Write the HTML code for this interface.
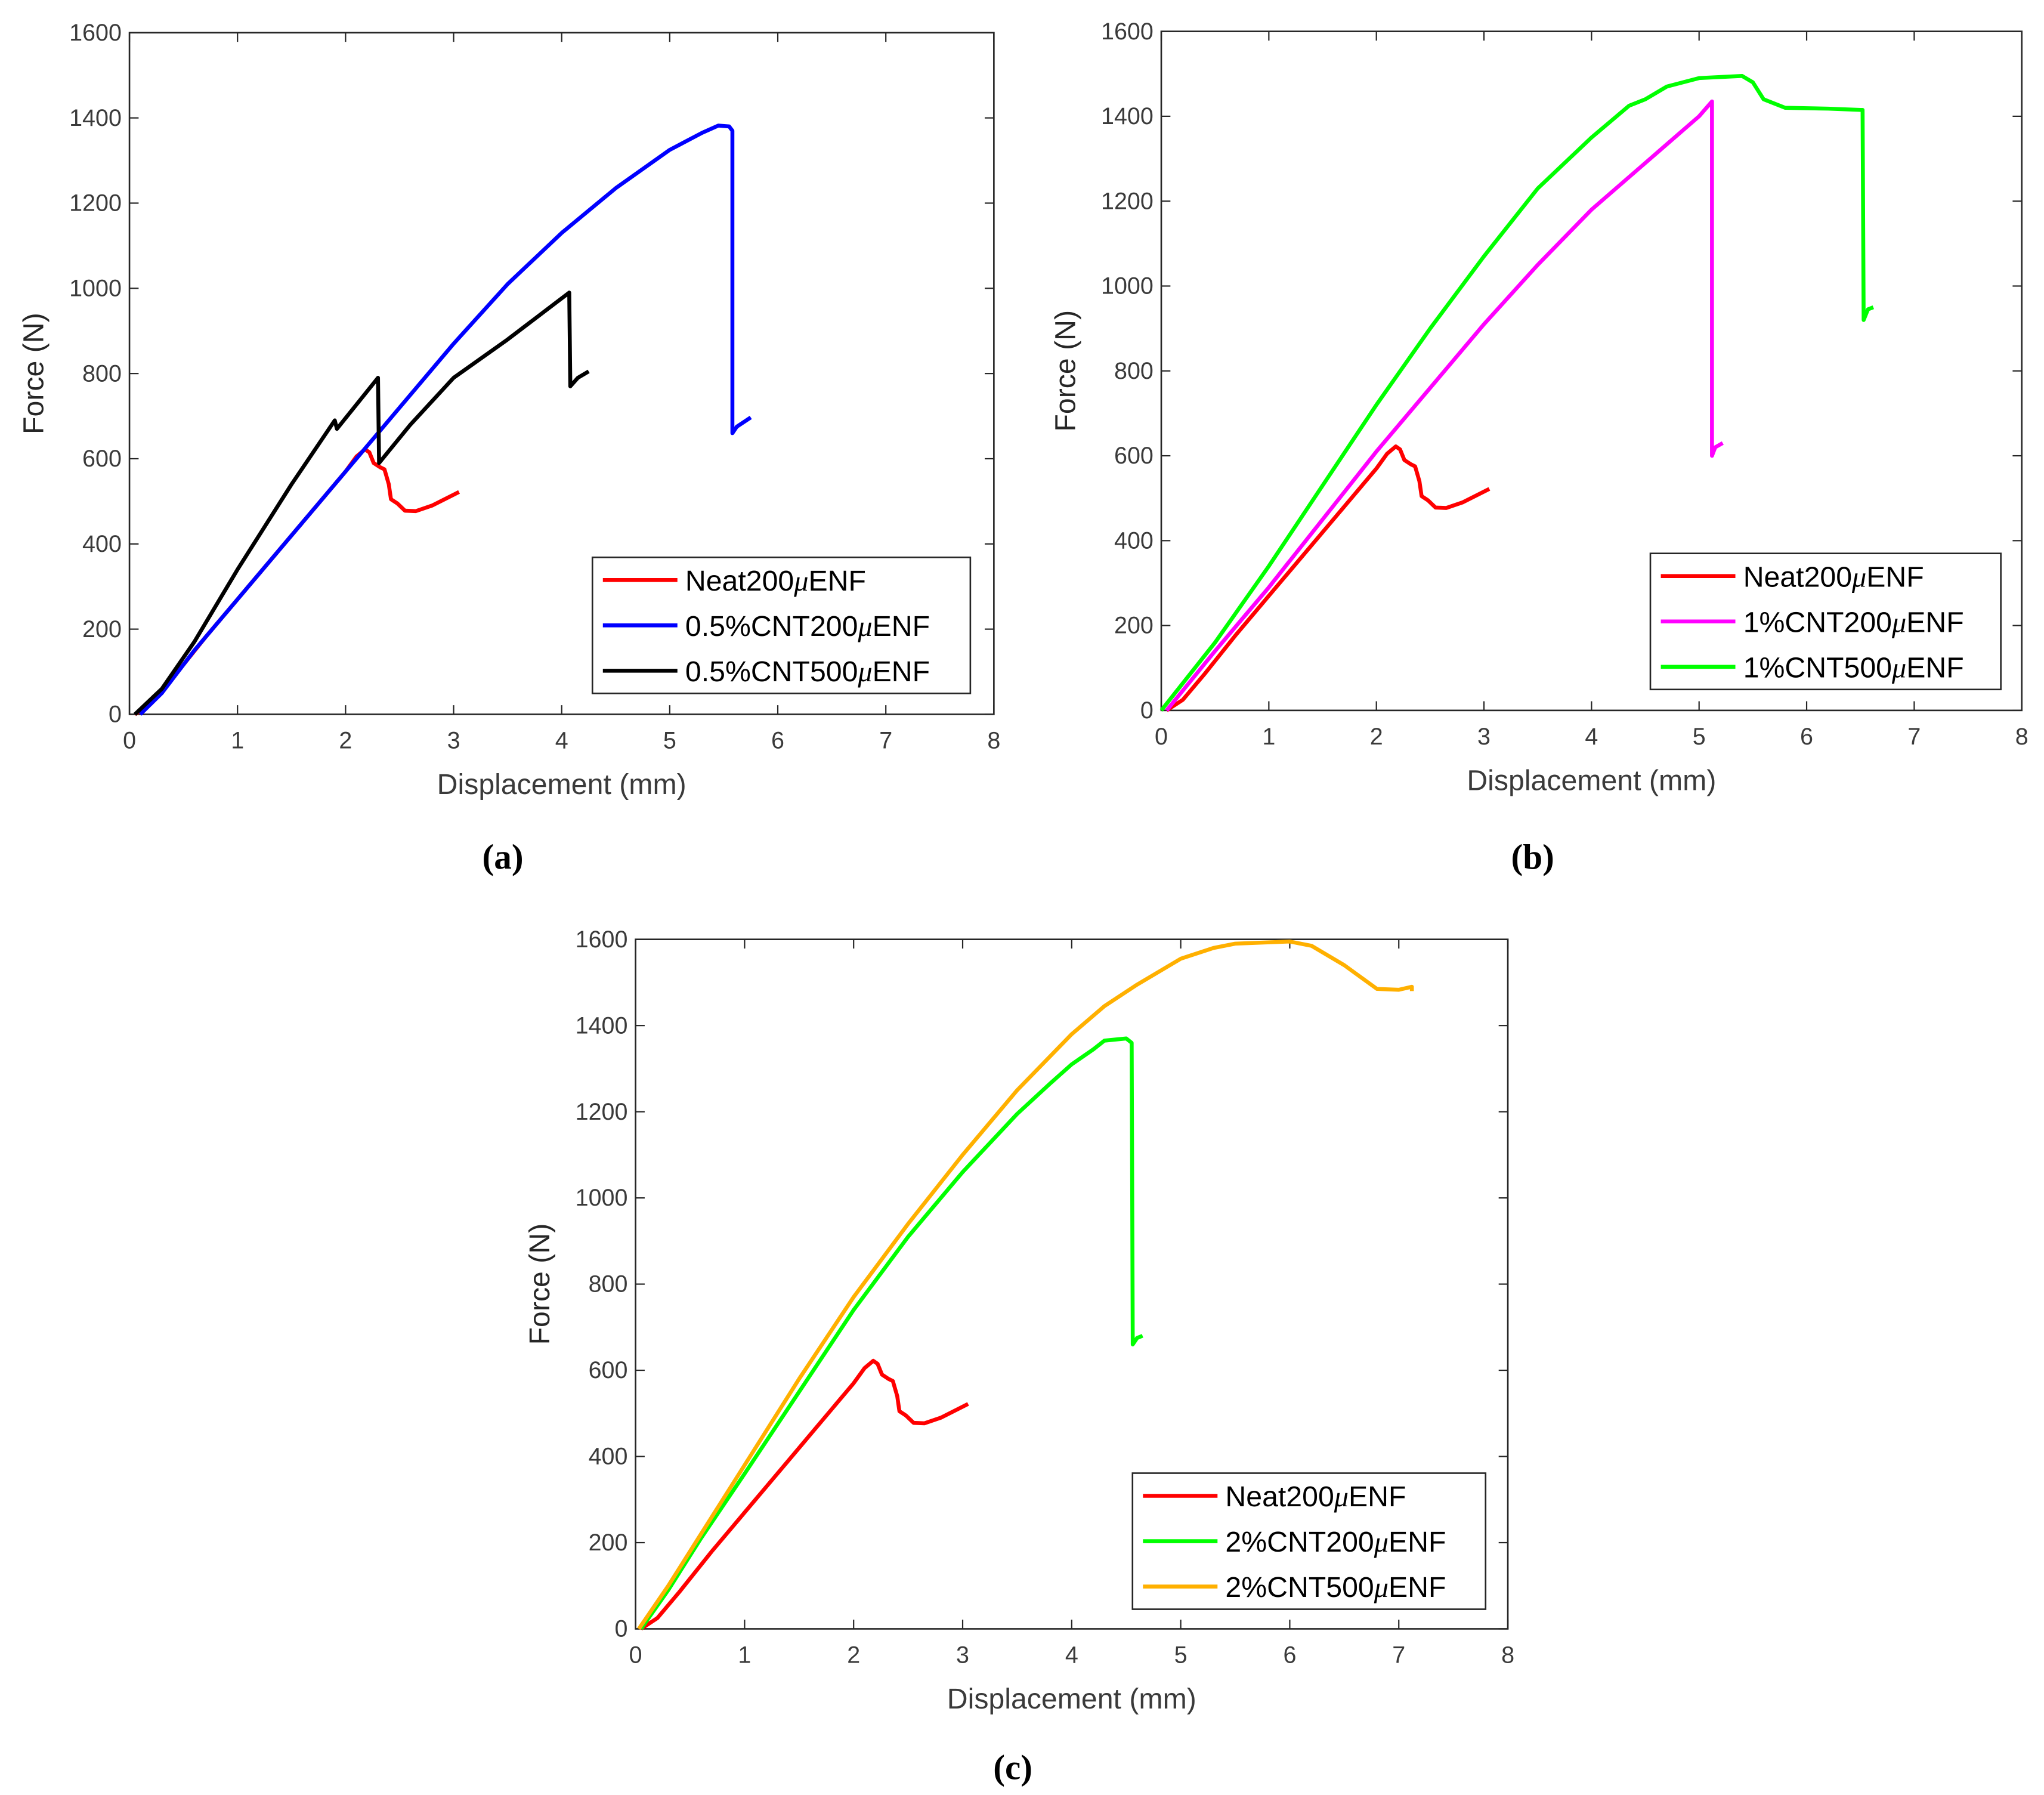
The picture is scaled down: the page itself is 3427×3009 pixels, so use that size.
<!DOCTYPE html>
<html><head><meta charset="utf-8"><style>
html,body{margin:0;padding:0;background:#fff;}
svg{display:block;}
text{font-family:"Liberation Sans",Arial,sans-serif;}
</style></head><body>
<svg id="fig" width="3427" height="3009" viewBox="0 0 1563 1372" preserveAspectRatio="none" xmlns="http://www.w3.org/2000/svg"></svg>
<script>
const xTicks=[0,1,2,3,4,5,6,7,8];
const yTicks=[0,200,400,600,800,1000,1200,1400,1600];
const neatX=[0.05,0.2,0.4,0.7,1,1.5,1.8,2.0,2.1,2.18,2.22,2.26,2.32,2.36,2.4,2.42,2.48,2.55,2.65,2.8,3.05];
const neatY=[0,25,85,180,270,420,510,570,605,622,615,590,580,575,540,505,495,478,477,490,522];
const c05_200X=[0.1,0.3,0.6,1,1.5,2,2.5,3,3.5,4,4.5,5,5.3,5.45,5.55,5.58,5.58,5.62,5.75];
const c05_200Y=[0,50,150,270,420,570,720,870,1010,1130,1235,1325,1365,1382,1380,1370,660,675,697];
const c05_500X=[0.05,0.3,0.6,1,1.5,1.9,1.92,2.3,2.31,2.6,3,3.5,4.07,4.08,4.15,4.25];
const c05_500Y=[0,60,170,340,540,690,670,790,590,680,790,880,990,770,790,805];
const c1_200X=[0.05,0.5,1,1.5,2,2.5,3,3.5,4,4.5,5,5.12,5.12,5.15,5.22];
const c1_200Y=[0,140,290,450,610,760,910,1050,1180,1290,1400,1435,600,620,630];
const c1_500X=[0,0.5,1,1.5,2,2.5,3,3.5,4,4.35,4.5,4.7,5,5.4,5.5,5.6,5.8,6.2,6.5,6.52,6.53,6.57,6.62];
const c1_500Y=[0,160,340,530,720,900,1070,1230,1350,1425,1440,1470,1490,1495,1480,1440,1420,1418,1415,1415,920,945,950];
const c2_200X=[0.05,0.3,0.6,1,1.5,2,2.5,3,3.5,3.8,4,4.2,4.3,4.5,4.55,4.56,4.6,4.65];
const c2_200Y=[0,90,210,360,550,740,910,1060,1195,1265,1310,1345,1365,1370,1360,660,675,680];
const c2_500X=[0.03,0.3,0.6,1,1.5,2,2.5,3,3.5,4,4.3,4.6,5,5.3,5.5,6,6.2,6.5,6.8,7,7.12,7.12];
const c2_500Y=[0,100,220,380,580,770,940,1100,1250,1380,1445,1495,1555,1580,1590,1595,1585,1540,1485,1483,1490,1480];

const NS="http://www.w3.org/2000/svg";
const svg=document.getElementById('fig');
function mk(tag,attrs,parent){const e=document.createElementNS(NS,tag);for(const k in attrs)e.setAttribute(k,attrs[k]);(parent||svg).appendChild(e);return e;}

function panel(id,x0,x1,y0,y1,series,leg,label,labelY){
  const g=mk('g',{});
  
  
  const sx=v=>x0+(v/8)*(x1-x0);
  const sy=v=>y1-(v/1600)*(y1-y0);
  const box=mk('rect',{x:x0,y:y0,width:x1-x0,height:y1-y0,fill:'#fff',stroke:'#262626','stroke-width':1.2},g);
  
  
  xTicks.forEach(t=>{
    const x=sx(t);
    mk('line',{x1:x,x2:x,y1:y1,y2:y1-7,stroke:'#262626','stroke-width':1},g);
    mk('line',{x1:x,x2:x,y1:y0,y2:y0+7,stroke:'#262626','stroke-width':1},g);
    const tx=mk('text',{x:x,y:y1+26,'text-anchor':'middle','font-size':18,fill:'#3a3a3a'},g);
    tx.textContent=t;
    
    
  });
  yTicks.forEach(t=>{
    const y=sy(t);
    mk('line',{x1:x0,x2:x0+7,y1:y,y2:y,stroke:'#262626','stroke-width':1},g);
    mk('line',{x1:x1,x2:x1-7,y1:y,y2:y,stroke:'#262626','stroke-width':1},g);
    const ty=mk('text',{x:x0-6,y:y+6,'text-anchor':'end','font-size':18,fill:'#3a3a3a'},g);
    ty.textContent=t;
    
    
  });
  const xt=mk('text',{x:(x0+x1)/2,y:y1+61,'text-anchor':'middle','font-size':22,fill:'#3a3a3a'},g);
  xt.textContent='Displacement (mm)';
  
  
  const yc=(y0+y1)/2;
  const yt=mk('text',{x:x0-66,y:yc,'text-anchor':'middle','font-size':22,fill:'#262626',transform:'rotate(-90 '+(x0-66)+' '+yc+')'},g);
  yt.textContent='Force (N)';
  
  
  series.forEach(s=>{
    const d=s.x.map((v,i)=>(i?'L':'M')+sx(v).toFixed(2)+' '+sy(s.y[i]).toFixed(2)).join(' ');
    const p=mk('path',{d:d,fill:'none',stroke:s.c,'stroke-width':3,'stroke-linejoin':'round'},g);
    
    
  });
  const lg=mk('g',{},g);
  
  
  mk('rect',{x:leg[0],y:leg[1],width:leg[2]-leg[0],height:leg[3]-leg[1],fill:'#fff',stroke:'#262626','stroke-width':1.2},lg);
  const rh=(leg[3]-leg[1])/3;
  series.forEach((s,i)=>{
    const cy=leg[1]+rh*(i+0.5);
    mk('line',{x1:leg[0]+8,x2:leg[0]+65,y1:cy,y2:cy,stroke:s.c,'stroke-width':3},lg);
    const t=mk('text',{x:leg[0]+71,y:cy+8,'font-size':22,fill:'#000'},lg);
    const parts=s.label.split('\u03bc');
    const a=mk('tspan',{},t);a.textContent=parts[0];
    const m=mk('tspan',{'font-style':'italic','font-family':'"Liberation Serif",serif'},t);m.textContent='\u03bc';
    const b=mk('tspan',{},t);b.textContent=parts[1];
    
    
  });
  const lb=mk('text',{x:(x0+x1)/2-45,y:labelY,'text-anchor':'middle','font-size':27,'font-weight':'bold',fill:'#000'},g);
  lb.setAttribute('style','font-family:"Liberation Serif",serif');
  lb.textContent=label;
  
  
}
const neat={x:neatX,y:neatY,c:'#ff0000',n:'neat200',label:'Neat200\u03bcENF'};
panel('a',99,760,25,546,[neat,
  {x:c05_200X,y:c05_200Y,c:'#0000ff',n:'cnt05-200',label:'0.5%CNT200\u03bcENF'},
  {x:c05_500X,y:c05_500Y,c:'#000000',n:'cnt05-500',label:'0.5%CNT500\u03bcENF'}],
  [453,426,742,530],'(a)',664);
panel('b',888,1546,24,543,[neat,
  {x:c1_200X,y:c1_200Y,c:'#ff00ff',n:'cnt1-200',label:'1%CNT200\u03bcENF'},
  {x:c1_500X,y:c1_500Y,c:'#00ff00',n:'cnt1-500',label:'1%CNT500\u03bcENF'}],
  [1262,423,1530,527],'(b)',664);
panel('c',486,1153,718,1245,[neat,
  {x:c2_200X,y:c2_200Y,c:'#00ff00',n:'cnt2-200',label:'2%CNT200\u03bcENF'},
  {x:c2_500X,y:c2_500Y,c:'#ffb000',n:'cnt2-500',label:'2%CNT500\u03bcENF'}],
  [866,1126,1136,1230],'(c)',1360);
</script>
</body></html>
